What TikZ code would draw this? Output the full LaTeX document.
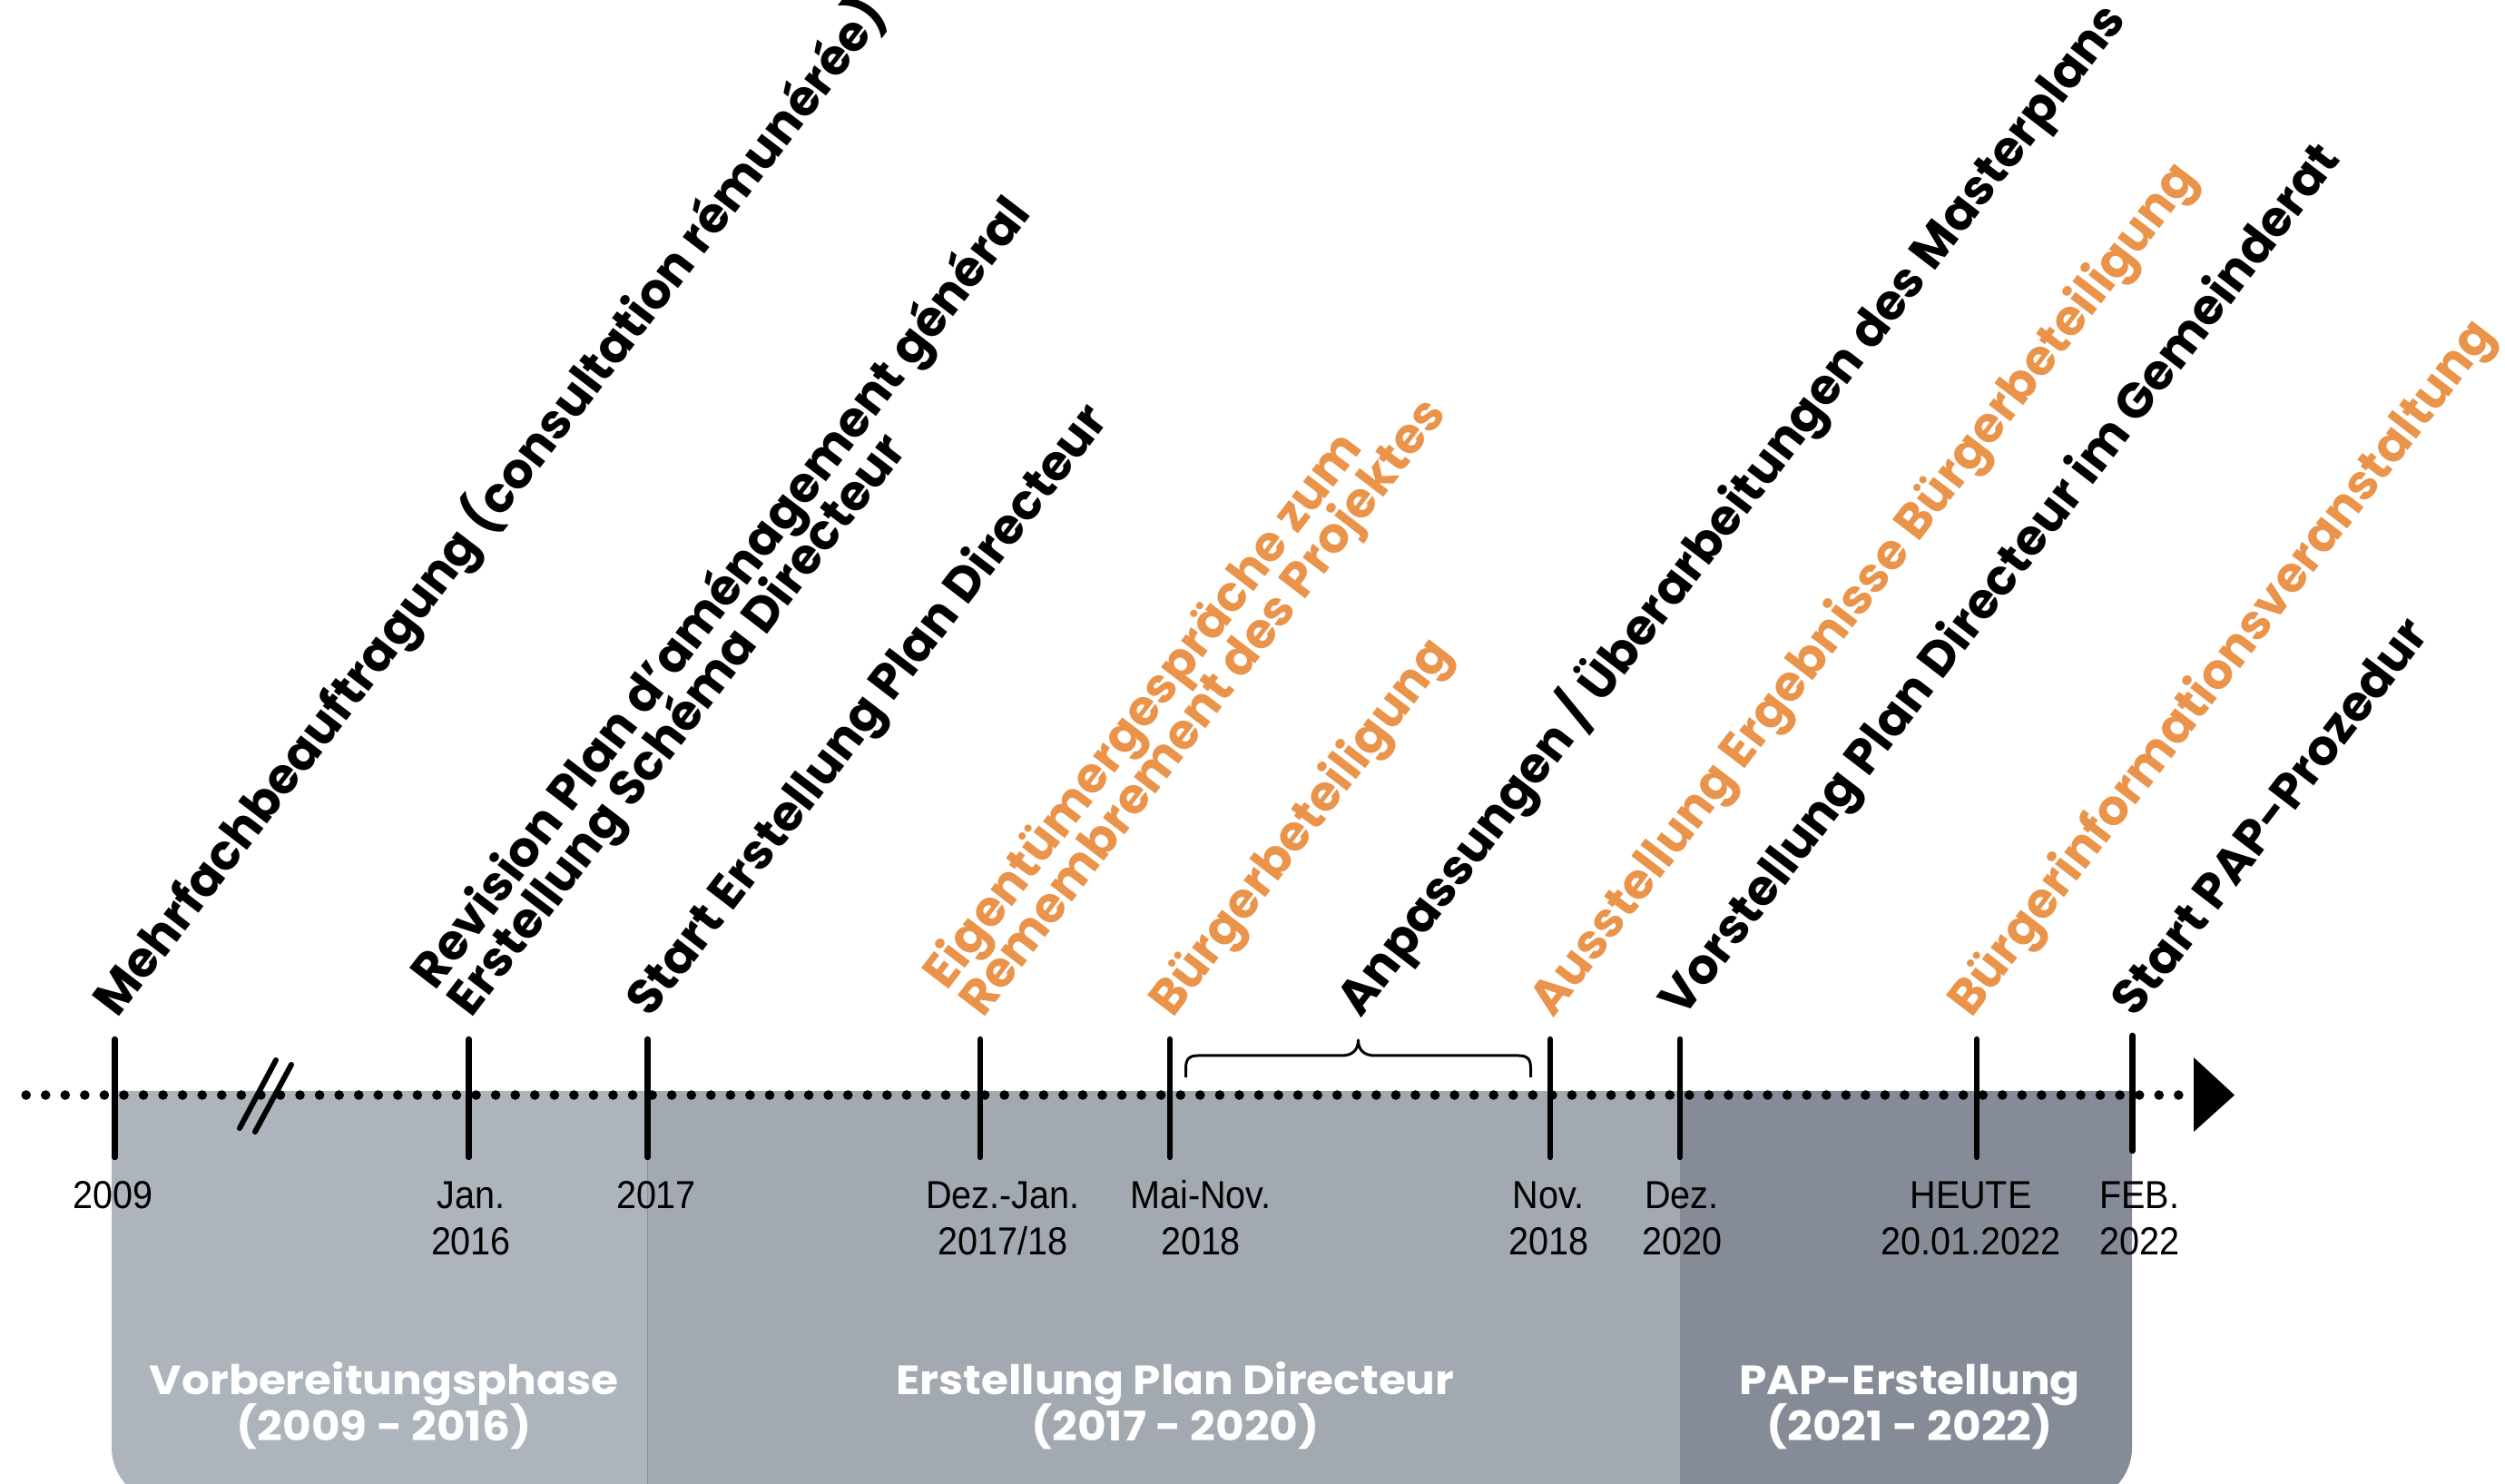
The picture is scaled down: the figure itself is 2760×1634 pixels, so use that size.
\documentclass[tikz,border=0pt]{standalone}
\usepackage{fontspec}
\setmainfont{Liberation Sans}
\newfontfamily\labfont{Poppins}
\newfontfamily\phasefont{Poppins}[FakeStretch=1.08]
\newfontfamily\datefont{Liberation Sans}[FakeStretch=0.92]
\definecolor{accent}{HTML}{E9944A}
\definecolor{phaseA}{HTML}{ADB4BC}
\definecolor{phaseB}{HTML}{A3A9B0}
\definecolor{phaseC}{HTML}{868C97}
\definecolor{divider}{HTML}{8B929B}
\begin{document}
\begin{tikzpicture}[x=1pt,y=1pt,
  lab/.style={inner sep=0pt, rotate=52.5, anchor=base west,
    font={\labfont\bfseries\fontsize{54}{54}\selectfont}},
  hot/.style={lab, text=accent},
  date/.style={inner sep=0pt, anchor=base,
    font={\datefont\fontsize{43}{43}\selectfont}},
  phase/.style={inner sep=0pt, anchor=base, text=white,
    font={\phasefont\bfseries\fontsize{45}{45}\selectfont}},
  tickline/.style={line width=6.5pt, line cap=round},
  breakline/.style={line width=6pt, line cap=round},
  bracket/.style={line width=3pt, line join=round}]
\useasboundingbox (0,0) rectangle (2760,1634);
\clip (0,0) rectangle (2760,1634);

% phase bands
\fill[phaseB] (713.6,432) rectangle (1851,-21);
\fill[phaseA] (713.6,-21) [rounded corners=60] -- (123,-21) [sharp corners] -- (123,432) -- (713.6,432) -- cycle;
\fill[phaseC] (1851,432) -- (2349,432) [rounded corners=60] -- (2349,-21) [sharp corners] -- (1851,-21) -- cycle;
\draw[divider, line width=1.5pt] (713.6,432) -- (713.6,-21);

% time axis: dotted line and arrow head
\foreach \i in {0,...,110} \fill (28.7+\i*21.56,427.5) circle (5.3);
\coordinate (axisend) at (2462,427.5);
\fill (2417,469) -- (2417,387) -- (axisend) -- cycle;

% break mark
\draw[breakline] (264,391) -- (304,466);
\draw[breakline] (281,387) -- (321,461);

% event positions on the axis
\coordinate (t1) at (126.5,427.5);
\coordinate (t2) at (516.5,427.5);
\coordinate (t3) at (713.6,427.5);
\coordinate (t4) at (1080,427.5);
\coordinate (t5) at (1289,427.5);
\coordinate (t6) at (1708,427.5);
\coordinate (t7) at (1851,427.5);
\coordinate (t8) at (2178,427.5);
\coordinate (t9) at (2349.5,427.5);

\foreach \t in {t1,t2,t3,t4,t5,t6,t7,t8}
  \draw[tickline] ([yshift=61.5pt]\t) -- ([yshift=-68.5pt]\t);
\draw[tickline] ([yshift=65.5pt]t9) -- ([yshift=-61.5pt]t9);

% brace over Mai-Nov. 2018 to Nov. 2018
\coordinate (bl) at (1306.5,447);
\coordinate (br) at (1686.5,447);
\coordinate (btip) at (1496.5,488);
\draw[bracket] (bl) -- (1306.5,457) .. controls (1306.5,467) and (1310,471) .. (1320,471)
  -- (1478,471) .. controls (1490,471) and (1496.5,477) .. (btip)
  .. controls (1496.5,477) and (1503,471) .. (1515,471)
  -- (1673,471) .. controls (1683,471) and (1686.5,467) .. (1686.5,457) -- (br);

% dates below the axis
\node[date] (d1) at (125,302.4) {2009};
\node[date] (d2a) at (519,302.4) {Jan.};
\node[date] (d2b) at (519,251.3) {2016};
\node[date] (d3) at (723,302.4) {2017};
\node[date] (d4a) at (1105,302.4) {Dez.-Jan.};
\node[date] (d4b) at (1105,251.3) {2017/18};
\node[date] (d5a) at (1323,302.4) {Mai-Nov.};
\node[date] (d5b) at (1323,251.3) {2018};
\node[date] (d6a) at (1706,302.4) {Nov.};
\node[date] (d6b) at (1706,251.3) {2018};
\node[date] (d7a) at (1853,302.4) {Dez.};
\node[date] (d7b) at (1853,251.3) {2020};
\node[date] (d8a) at (2171.5,302.4) {HEUTE};
\node[date] (d8b) at (2171.5,251.3) {20.01.2022};
\node[date] (d9a) at (2357,302.4) {FEB.};
\node[date] (d9b) at (2357,251.3) {2022};

% phase names
\node[phase] (p1a) at (423,98) {Vorbereitungsphase};
\node[phase] (p1b) at (423,47) {(2009 - 2016)};
\node[phase] (p2a) at (1295,98) {Erstellung Plan Directeur};
\node[phase] (p2b) at (1295,47) {(2017 - 2020)};
\node[phase] (p3a) at (2104,98) {PAP-Erstellung};
\node[phase] (p3b) at (2104,47) {(2021 - 2022)};

% event labels, slanted
\node[lab] (e1) at (129.5,511) {Mehrfachbeauftragung (consultation rémunérée)};
\node[lab] (e2a) at (479.8,541.4) {Revision Plan d’aménagement général};
\node[lab] (e2b) at (519.5,511) {Erstellung Schéma Directeur};
\node[lab] (e3) at (716.6,511) {Start Erstellung Plan Directeur};
\node[hot] (e4a) at (1043.3,541.4) {Eigentümergespräche zum};
\node[hot] (e4b) at (1083,511) {Remembrement des Projektes};
\node[hot] (e5) at (1292,511) {Bürgerbeteiligung};
\node[lab] (e6) at (1499.5,511) {Anpassungen / Überarbeitungen des Masterplans};
\node[hot] (e7) at (1711,511) {Ausstellung Ergebnisse Bürgerbeteiligung};
\node[lab] (e8) at (1854,511) {Vorstellung Plan Directeur im Gemeinderat};
\node[hot] (e9) at (2172,511) {Bürgerinformationsveranstaltung};
\node[lab] (e10) at (2352.5,511) {Start PAP-Prozedur};
\end{tikzpicture}
\end{document}
